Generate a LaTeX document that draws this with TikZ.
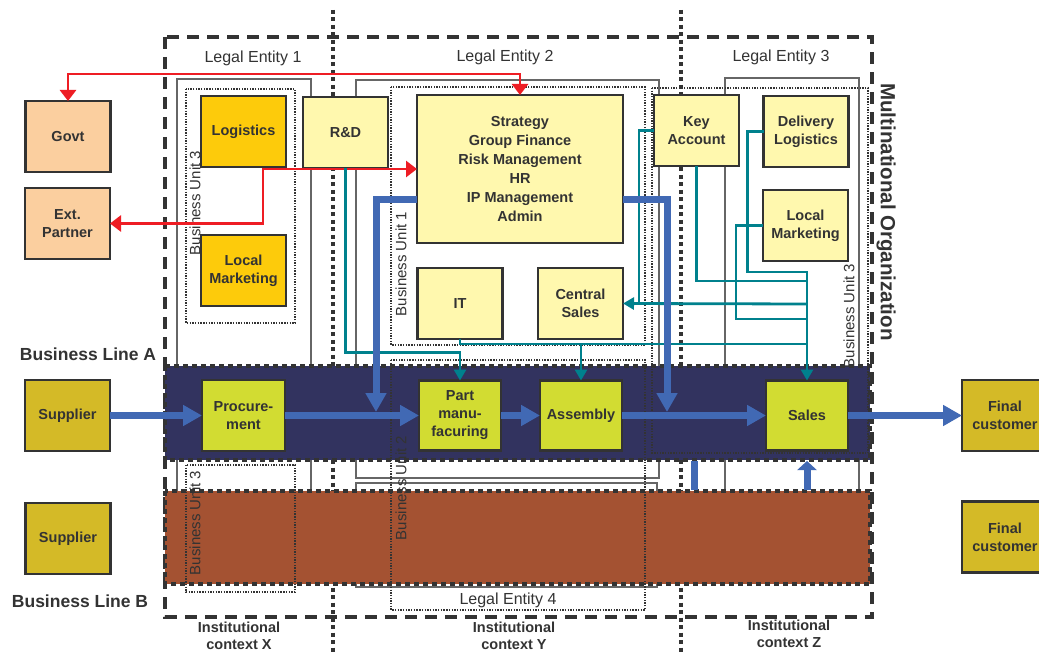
\documentclass[tikz,border=0pt]{standalone}
\usepackage{fontspec}
\setmainfont{Liberation Sans}
\usetikzlibrary{arrows.meta,calc}
\definecolor{dk}{HTML}{333333}
\definecolor{cnavy}{HTML}{32335F}
\definecolor{cbrown}{HTML}{A45232}
\definecolor{cpeach}{HTML}{FBCF9F}
\definecolor{cgold}{HTML}{FDCB0B}
\definecolor{clyel}{HTML}{FFF8AE}
\definecolor{clime}{HTML}{D2DC32}
\definecolor{cmust}{HTML}{D4BA27}
\definecolor{cblue}{HTML}{4169B4}
\definecolor{cteal}{HTML}{00818D}
\definecolor{cred}{HTML}{EE1D24}
\definecolor{lgr}{HTML}{666666}
\tikzset{
  nbox/.style={draw=dk, line width=2.2pt, minimum width=85pt, minimum height=71pt,
    inner sep=0pt, outer sep=0pt, align=center, text=dk,
    font=\fontsize{14.5}{18}\selectfont\bfseries},
  lebox/.style={draw=lgr, line width=1.3pt},
  bubox/.style={draw=dk, line width=1.4pt, dash pattern=on 1.4pt off 1.3pt},
  instln/.style={draw=dk, line width=4.5pt, dash pattern=on 4pt off 3.5pt},
  mnobox/.style={draw=dk, line width=3.5pt, dash pattern=on 12pt off 8pt},
  bandbox/.style={draw=dk, line width=4.5pt, dash pattern=on 5pt off 4pt},
  lelbl/.style={text=dk, font=\fontsize{16}{19}\selectfont, inner sep=0pt},
  bulbl/.style={text=dk, font=\fontsize{15}{18}\selectfont, inner sep=0pt, rotate=90},
  instlbl/.style={text=dk, font=\fontsize{14.5}{17}\selectfont\bfseries, align=center, inner sep=0pt},
  bllbl/.style={text=dk, font=\fontsize{17.5}{20}\selectfont\bfseries, inner sep=0pt},
  redarr/.style={draw=cred, line width=2.9pt,
    {Triangle[length=11pt,width=16pt]}-{Triangle[length=11pt,width=16pt]}},
  tealln/.style={draw=cteal, line width=2.8pt},
  tealarr/.style={tealln, -{Triangle[length=11pt,width=12pt]}},
  blueln/.style={draw=cblue, line width=7pt},
  bluearr/.style={blueln, -{Triangle[length=19pt,width=20pt]}},
  bluearrs/.style={blueln, -{Triangle[length=9pt,width=19pt]}},
}
\begin{document}
\begin{tikzpicture}[x=1pt,y=-1pt]
\useasboundingbox (0,0) rectangle (1039,652);
\clip (0,0) rectangle (1039,652);
\fill[white] (0,0) rectangle (1039,652);

% legal entities
\draw[lebox] (177,79) rectangle (311,580);
\draw[lebox] (356,80) rectangle (659,478);
\draw[lebox] (356,483) rectangle (657,587);
\draw[lebox] (725,78) rectangle (859,580);

% institutional context separators
\draw[instln] (333,10) -- (333,652);
\draw[instln] (681,10) -- (681,652);

% multinational organization
\draw[mnobox] (165,37) rectangle (872,617);

% business lines
\draw[bandbox, fill=cbrown] (165,491) rectangle (870,584);
\draw[bandbox, fill=cnavy] (165,366) rectangle (870,460);

% business units
\draw[bubox] (186,89) rectangle (295,323);
\draw[bubox] (391,87) rectangle (645,345);
\draw[bubox] (652,88) rectangle (868,453);
\draw[bubox] (391,360) rectangle (645,610);
\draw[bubox] (186,465) rectangle (295,592);

% labels
\node[lelbl] (le1) at (253,58) {Legal Entity 1};
\node[lelbl] (le2) at (505,57) {Legal Entity 2};
\node[lelbl] (le3) at (781,57) {Legal Entity 3};
\node[lelbl] (le4) at (508,600) {Legal Entity 4};
\node[bulbl] (bu3a) at (195,203) {Business Unit 3};
\node[bulbl] (bu1) at (401,264) {Business Unit 1};
\node[bulbl] (bu3b) at (849,316) {Business Unit 3};
\node[bulbl] (bu2) at (401,488) {Business Unit 2};
\node[bulbl] (bu3c) at (195,523) {Business Unit 3};
\node[text=dk, font=\fontsize{20.5}{24}\selectfont\bfseries, rotate=-90, inner sep=0pt] (mno) at (886,212) {Multinational Organization};
\node[bllbl] (bla) at (88,354) {Business Line A};
\node[bllbl] (blb) at (80,601) {Business Line B};
\node[instlbl] (ix) at (239,636) {Institutional\\context X};
\node[instlbl] (iy) at (514,636) {Institutional\\context Y};
\node[instlbl] (iz) at (789,634) {Institutional\\context Z};

% nodes
\node[nbox, fill=cpeach] (govt) at (68,136.5) {Govt};
\node[nbox, fill=cpeach] (ext) at (67.5,223.5) {Ext.\\Partner};
\node[nbox, fill=cgold] (logi) at (243.5,131.5) {Logistics};
\node[nbox, fill=cgold] (lmk1) at (243.5,270.5) {Local\\Marketing};
\node[nbox, fill=clyel] (rnd) at (345.5,132.5) {R\&D};
\node[nbox, fill=clyel, minimum width=206pt, minimum height=148pt,
  font=\fontsize{14.5}{19}\selectfont\bfseries] (strat) at (520,169)
  {Strategy\\Group Finance\\Risk Management\\HR\\IP Management\\Admin};
\node[nbox, fill=clyel] (it) at (460,303.5) {IT};
\node[nbox, fill=clyel] (csales) at (580.5,303.5) {Central\\Sales};
\node[nbox, fill=clyel] (keyacc) at (696.5,130.5) {Key\\Account};
\node[nbox, fill=clyel] (dellog) at (806,131.5) {Delivery\\Logistics};
\node[nbox, fill=clyel] (lmk2) at (805.5,225.5) {Local\\Marketing};
\node[nbox, fill=clime, minimum width=83pt] (proc) at (243.5,415.5) {Procure-\\ment};
\node[nbox, fill=clime, minimum width=82pt, minimum height=70pt] (part) at (460,415.5) {Part\\manu-\\facuring};
\node[nbox, fill=clime, minimum width=82pt, minimum height=70pt] (assem) at (581,415.5) {Assembly};
\node[nbox, fill=clime, minimum width=82pt, minimum height=70pt] (sales) at (807,415.5) {Sales};
\node[nbox, fill=cmust] (supA) at (67.5,415.5) {Supplier};
\node[nbox, fill=cmust] (supB) at (68,538.5) {Supplier};
\node[nbox, fill=cmust, minimum width=86pt] (fcA) at (1005,415.5) {Final\\customer};
\node[nbox, fill=cmust, minimum width=86pt] (fcB) at (1005,537) {Final\\customer};

% red connectors
\draw[redarr] (govt.north) -- ++(0,-27) -| (strat.north);
\coordinate (rb) at (263,169);
\draw[redarr] (ext.east) -| (rb) -- (strat.west);

% teal connectors
\coordinate (bus1) at (807,272);
\coordinate (bus2) at (807,281);
\coordinate (bus5) at (807,304);
\coordinate (bus3) at (807,319);
\coordinate (bus4) at (807,344);
\coordinate (ka) at (639,304);
\draw[tealarr] (rnd.south) |- ($(part.north)+(0,-28)$) -- (part.north);
\draw[tealln] (it.south) |- (bus4);
\draw[tealarr] (assem.north |- bus4) -- (assem.north);
\draw[tealln] (keyacc.south) |- (bus2);
\draw[tealarr] (dellog.west) -- ++(-16,0) |- (bus1) -- (sales.north);
\draw[tealln] (lmk2.west) -- ++(-27,0) |- (bus3);
\draw[tealarr] (bus5) -- (csales.east);
\draw[tealln] (keyacc.west) -| (ka);

% blue flows
\draw[bluearr] (supA.east) -- (proc.west);
\draw[bluearr] (proc.east) -- (part.west);
\draw[bluearr] (part.east) -- (assem.west);
\draw[bluearr] (assem.east) -- (sales.west);
\draw[bluearr] (sales.east) -- (fcA.west);
\coordinate (sl) at (376,412);
\coordinate (sr) at (667,412);
\draw[bluearr] ($(strat.west)+(0,31)$) -| (sl);
\draw[bluearr] ($(strat.east)+(0,31)$) -| (sr);
\coordinate (up0) at (807,490);
\coordinate (up1) at (807,461);
\draw[bluearrs] (up0) -- (up1);
\coordinate (st0) at (694,461);
\coordinate (st1) at (694,490);
\draw[blueln] (st0) -- (st1);
\end{tikzpicture}
\end{document}
